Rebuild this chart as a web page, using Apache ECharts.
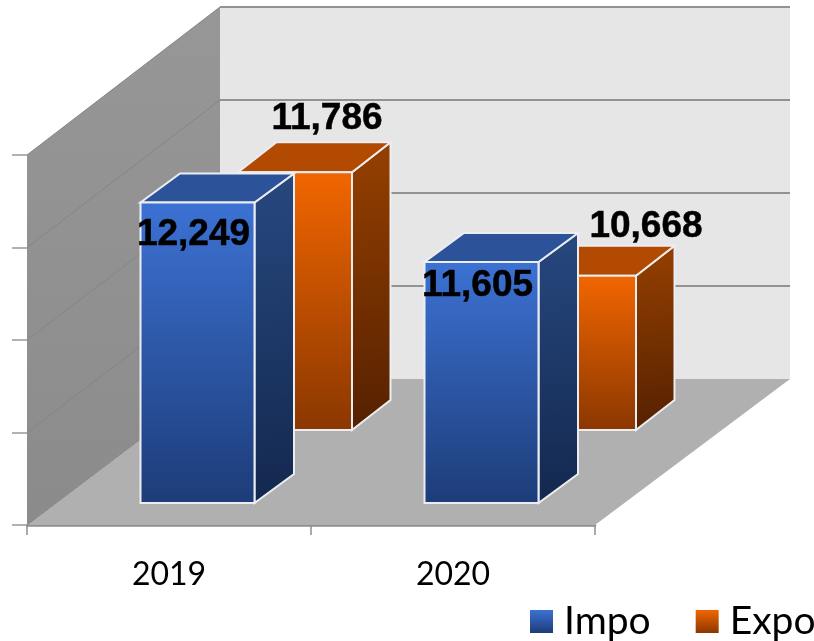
<!DOCTYPE html>
<html>
<head>
<meta charset="utf-8">
<style>html,body{margin:0;padding:0;background:#fff}#c{width:814px;height:641px}</style>
<script src="https://cdn.jsdelivr.net/npm/echarts@6/dist/echarts.min.js"></script>
</head>
<body>
<div id="c"></div>
<script>
const categories = ['2019', '2020'];
const impoValues = [12249, 11605];
const expoValues = [11786, 10668];
const axisMin = 9000;
const axisMax = 13000;
const axisStep = 1000;

const chart = echarts.init(document.getElementById('c'), null, {renderer: 'canvas'});
const G = echarts.graphic;
const vGrad = (a, b) => new G.LinearGradient(0, 0, 0, 1, [{offset: 0, color: a}, {offset: 1, color: b}]);
const dGrad = (a, b) => new G.LinearGradient(0, 0, 0.35, 1, [{offset: 0, color: a}, {offset: 1, color: b}]);

const WALL_DX_L = 193, WALL_DX_R = 195, WALL_DY = -146, WALL_SCALE = 372 / 370;
const EDGE = '#ecedf2';

function poly(points, fill, extra) {
  return Object.assign({type: 'polygon', silent: true, shape: {points}, style: {fill, stroke: EDGE, lineWidth: 2}}, extra || {});
}
function line(x1, y1, x2, y2, stroke, lineWidth) {
  return {type: 'line', silent: true, shape: {x1, y1, x2, y2}, style: {stroke, lineWidth}};
}

function renderWalls(params, api) {
  if (params.dataIndex > 0) return null;
  const cs = params.coordSys;
  const L = cs.x, R = cs.x + cs.width, B = cs.y + cs.height;
  const backY = y => B + WALL_DY + (y - B) * WALL_SCALE;
  const children = [];
  const top = api.coord([0, axisMax])[1];
  const bl = L + WALL_DX_L, br = R + WALL_DX_R;
  children.push({type: 'polygon', silent: true, shape: {points: [[bl, backY(B)], [br, backY(B)], [br, backY(top)], [bl, backY(top)]]}, style: {fill: '#e6e6e6'}});
  children.push({type: 'polygon', silent: true, shape: {points: [[L, B], [bl, backY(B)], [bl, backY(top)], [L, top]]}, style: {fill: vGrad('#979797', '#8b8b8b')}});
  children.push({type: 'polygon', silent: true, shape: {points: [[L, B], [R, B], [br, backY(B)], [bl, backY(B)]]}, style: {fill: '#b0b0b0'}});
  for (let v = axisMin; v <= axisMax; v += axisStep) {
    const y = api.coord([0, v])[1];
    if (v > axisMin) children.push(line(bl, backY(y), br, backY(y), '#929292', 2));
    children.push(line(L, y, bl, backY(y), '#858585', 1));
  }
  return {type: 'group', children};
}

function makeBar(opts) {
  return function (params, api) {
    const i = params.dataIndex;
    const val = api.value(1);
    const topPt = api.coord([i, val]);
    const basePt = api.coord([i, axisMin]);
    const left = topPt[0] + opts.offX - opts.w / 2, right = left + opts.w;
    const bottom = basePt[1] + opts.offY, top = topPt[1] + opts.offY;
    const dx = opts.dx, dy = opts.dy;
    const lab = opts.labels[i];
    return {type: 'group', children: [
      poly([[right, top], [right + dx, top + dy], [right + dx, bottom + dy], [right, bottom]], dGrad(opts.side[0], opts.side[1])),
      poly([[left, top], [right, top], [right + dx, top + dy], [left + dx, top + dy]], opts.top),
      poly([[left, top], [right, top], [right, bottom], [left, bottom]], vGrad(opts.front[0], opts.front[1])),
      {type: 'text', silent: true, z2: 50, style: {
        text: val.toLocaleString('en-US'),
        x: (left + right) / 2 + lab[0], y: top + lab[1],
        align: 'center', verticalAlign: 'middle',
        font: 'bold 37px "Liberation Sans", Arial, sans-serif', fill: '#000',
        stroke: '#000', lineWidth: 0.5
      }}
    ]};
  };
}

const impoRender = makeBar({w: 114, offX: 28.5, offY: -22, dx: 39.5, dy: -29,
  front: ['#3c72d4', '#1d3c78'], side: ['#27487f', '#13284e'], top: '#2c5299',
  labels: [[-4, 32], [-4, 24]]});
const expoRender = makeBar({w: 114, offX: 126, offY: -95, dx: 38.5, dy: -30,
  front: ['#f26600', '#8a3700'], side: ['#964000', '#552100'], top: '#b24a02',
  labels: [[32, -53], [67, -49]]});

chart.setOption({
  animation: false,
  backgroundColor: '#fff',
  grid: {left: 27, right: 219, top: 155, bottom: 116, containLabel: false},
  legend: {
    data: ['Impo', 'Expo'], left: 530, top: 602, width: 600, padding: 0, itemWidth: 23, itemHeight: 23, itemGap: 45, icon: 'rect',
    textStyle: {fontFamily: 'Lato', fontSize: 39, color: '#000', padding: [0, 0, 0, 6]}
  },
  xAxis: {
    type: 'category', data: categories, boundaryGap: true,
    axisLine: {show: true, lineStyle: {color: '#8f8f8f', width: 2.5}},
    axisTick: {show: true, length: 10, lineStyle: {color: '#8f8f8f', width: 1.5}},
    axisLabel: {fontFamily: 'Lato', fontSize: 32, color: '#000', margin: 34}
  },
  yAxis: {
    type: 'value', min: axisMin, max: axisMax, interval: axisStep,
    axisLine: {show: false},
    axisTick: {show: true, length: 15, lineStyle: {color: '#999', width: 1.5}},
    axisLabel: {show: false},
    splitLine: {show: false}
  },
  series: [
    {type: 'custom', name: 'walls', z: 1, renderItem: renderWalls, data: [[0, axisMin]], encode: {x: 0, y: 1}, silent: true, clip: false},
    {type: 'custom', name: 'Expo', z: 2, renderItem: expoRender, clip: false, encode: {x: 0, y: 1},
      itemStyle: {color: vGrad('#f26600', '#8a3700')},
      data: expoValues.map((v, i) => [i, v])},
    {type: 'custom', name: 'Impo', z: 3, renderItem: impoRender, clip: false, encode: {x: 0, y: 1},
      itemStyle: {color: vGrad('#3c72d4', '#1d3c78')},
      data: impoValues.map((v, i) => [i, v])}
  ]
});
</script>
</body>
</html>
